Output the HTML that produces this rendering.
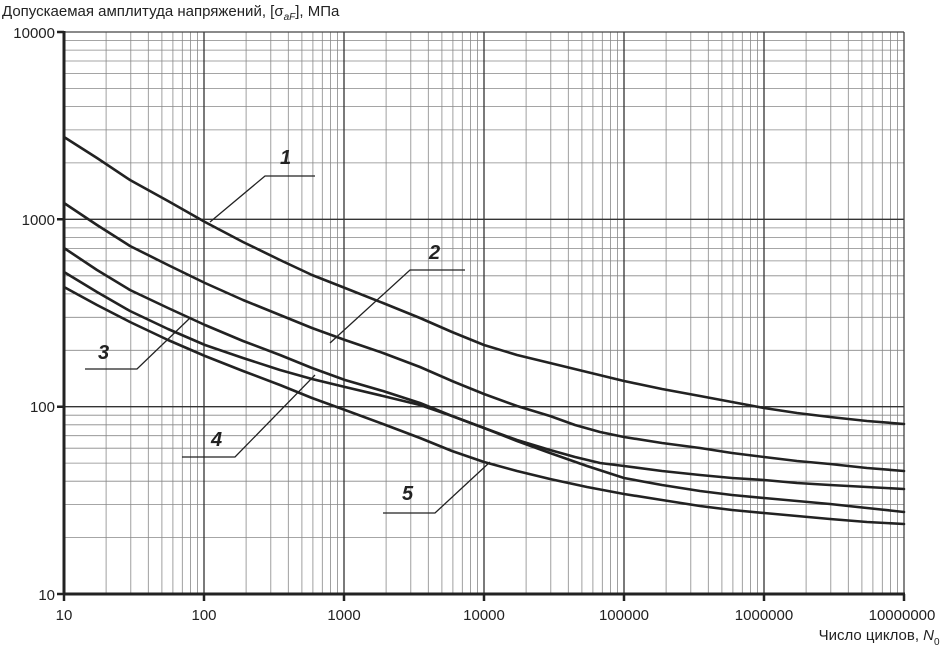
<!DOCTYPE html><html><head><meta charset="utf-8"><style>body{margin:0;background:#fff}svg{display:block}text{font-family:"Liberation Sans",sans-serif;fill:#222}</style></head><body>
<svg width="945" height="647" viewBox="0 0 945 647" xmlns="http://www.w3.org/2000/svg">
<path fill="none" stroke="#888" stroke-width="0.8" d="
M106.1 32V594M130.8 32V594M148.3 32V594M161.9 32V594M172.9 32V594M182.3 32V594M190.4 32V594M197.6 32V594
M246.1 32V594M270.8 32V594M288.3 32V594M301.9 32V594M312.9 32V594M322.3 32V594M330.4 32V594M337.6 32V594
M386.1 32V594M410.8 32V594M428.3 32V594M441.9 32V594M452.9 32V594M462.3 32V594M470.4 32V594M477.6 32V594
M526.1 32V594M550.8 32V594M568.3 32V594M581.9 32V594M592.9 32V594M602.3 32V594M610.4 32V594M617.6 32V594
M666.1 32V594M690.8 32V594M708.3 32V594M721.9 32V594M732.9 32V594M742.3 32V594M750.4 32V594M757.6 32V594
M806.1 32V594M830.8 32V594M848.3 32V594M861.9 32V594M872.9 32V594M882.3 32V594M890.4 32V594M897.6 32V594
M64 537.6H904M64 504.6H904M64 481.2H904M64 463.1H904M64 448.2H904M64 435.7H904M64 424.8H904M64 415.2H904
M64 350.3H904M64 317.3H904M64 293.9H904M64 275.8H904M64 260.9H904M64 248.4H904M64 237.5H904M64 227.9H904
M64 162.9H904M64 129.9H904M64 106.5H904M64 88.4H904M64 73.5H904M64 61.0H904M64 50.1H904M64 40.5H904"/>
<path fill="none" stroke="#333" stroke-width="1.3" d="M204 32V594M344 32V594M484 32V594M624 32V594M764 32V594M64 406.7H904M64 219.3H904"/>
<line x1="904" y1="32" x2="904" y2="594" stroke="#444" stroke-width="1.3"/>
<line x1="64" y1="32" x2="904" y2="32" stroke="#444" stroke-width="1.3"/>
<line x1="64" y1="31" x2="64" y2="595" stroke="#222" stroke-width="3"/>
<line x1="63" y1="594" x2="905" y2="594" stroke="#222" stroke-width="3"/>
<path stroke="#222" stroke-width="2.5" d="M64 594V601M204 594V601M344 594V601M484 594V601M624 594V601M764 594V601M904 594V601M57 32H64M57 219.3H64M57 406.7H64M57 594H64"/>
<g font-size="15" text-anchor="end">
<text x="55" y="38">10000</text><text x="55" y="225">1000</text><text x="55" y="412">100</text><text x="55" y="600">10</text></g>
<g font-size="15" text-anchor="middle">
<text x="64" y="620">10</text><text x="204" y="620">100</text><text x="344" y="620">1000</text><text x="484" y="620">10000</text><text x="624" y="620">100000</text><text x="764" y="620">1000000</text><text x="902" y="620">10000000</text></g>
<text x="2" y="16" font-size="15">Допускаемая амплитуда напряжений, [σ<tspan font-size="10" dy="4" font-style="italic">aF</tspan><tspan dy="-4">], МПа</tspan></text>
<text x="934" y="640" font-size="15" text-anchor="end">Число циклов, <tspan font-style="italic">N</tspan></text>
<text x="934" y="645" font-size="10">0</text>
<g fill="none" stroke="#222" stroke-width="2.6" stroke-linejoin="round" stroke-linecap="round">
<polyline points="64,137 97,158 130,180 168,201 205,222 243,242 280,260 312,275 345,288 383,303 420,318 452,332 484,345 517,355 550,363 587,372 624,381 662,389 700,396 732,402 764,408 797,413 830,417 867,421 904,424"/>
<polyline points="64,203 97,225 130,246 168,265 205,283 243,300 280,315 312,328 345,340 383,353 420,367 452,381 484,394 517,406 550,416 575,425 600,432 624,437 662,443 700,448 732,453 764,457 797,461 830,464 867,468 904,471"/>
<polyline points="64,248 97,270 130,290 168,308 205,325 243,341 280,355 312,368 345,380 383,391 420,403 452,416 484,428 517,440 550,450 575,457 600,463 624,466 662,471 700,475 732,478 764,480 797,483 830,485 867,487 904,489"/>
<polyline points="64,272 97,292 130,311 168,329 205,345 243,358 280,370 312,379 345,387 383,396 420,405 452,416 484,428 517,441 550,453 587,466 624,478 662,485 700,491 732,495 764,498 797,501 830,504 867,508 904,512"/>
<polyline points="64,287 97,305 130,322 168,340 205,356 243,371 280,385 312,398 345,410 383,424 420,438 452,451 484,462 517,471 550,479 587,487 624,494 662,500 700,506 732,510 764,513 797,516 830,519 867,522 904,524"/>
</g>
<g fill="none" stroke="#222" stroke-width="1.3">
<polyline points="210,222 265,176 315,176"/>
<polyline points="330,343 410,270 465,270"/>
<polyline points="190,318 137,369 85,369"/>
<polyline points="315,375 235,457 182,457"/>
<polyline points="490,462 435,513 383,513"/>
</g>
<g font-size="20" font-style="italic" font-weight="bold" fill="#222">
<text x="280" y="164">1</text><text x="429" y="259">2</text><text x="98" y="359">3</text><text x="211" y="446">4</text><text x="402" y="500">5</text></g>
</svg></body></html>
